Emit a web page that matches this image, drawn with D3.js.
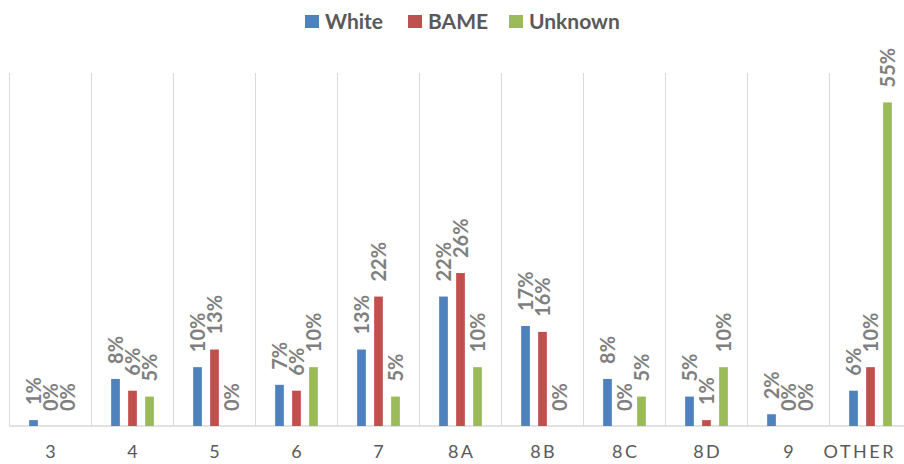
<!DOCTYPE html>
<html>
<head>
<meta charset="utf-8">
<script src="https://cdn.jsdelivr.net/npm/d3@7"></script>
<style>
  html, body { margin: 0; padding: 0; background: #fff; }
  svg { display: block; }
</style>
</head>
<body>
<svg id="chart" width="904" height="464"></svg>
<script>
// Pay band categories and share of staff in each ethnicity group (%)
const categories = ["3", "4", "5", "6", "7", "8A", "8B", "8C", "8D", "9", "OTHER"];
const series = ["White", "BAME", "Unknown"];
const white   = [1, 8, 10, 7, 13, 22, 17, 8, 5, 2, 6];
const bame    = [0, 6, 13, 6, 22, 26, 16, 0, 1, 0, 10];
const unknown = [0, 5, 0, 10, 5, 10, 0, 5, 10, 0, 55];
const colors = ["#4f81bd", "#c0504d", "#9bbb59"];

const values = [white, bame, unknown];
const rows = categories.map((c, i) => ({
  cat: c,
  vals: series.map((s, j) => ({ series: s, idx: j, value: values[j][i] }))
}));

const W = 904;
const svg = d3.select("#chart");
const plotTop = 73, plotBottom = 426, plotLeft = 9.5, step = 82;

const x0 = d3.scaleBand().domain(categories).range([plotLeft, plotLeft + step * categories.length]).padding(0);
const x1 = d3.scaleBand().domain(series).range([-21.35, 21.35]).paddingInner(0.488);
const y = d3.scaleLinear().domain([0, 60]).range([plotBottom, plotTop]);

// Vertical separators between categories
const bounds = d3.range(categories.length + 1).map(i => plotLeft + i * x0.step());
svg.append("g").selectAll("line").data(bounds).join("line")
  .attr("x1", d => d).attr("x2", d => d)
  .attr("y1", plotTop).attr("y2", plotBottom)
  .attr("stroke", "#d9d9d9").attr("stroke-width", 1);

// Baseline
svg.append("line")
  .attr("x1", plotLeft).attr("x2", W).attr("y1", plotBottom).attr("y2", plotBottom)
  .attr("stroke", "#d9d9d9").attr("stroke-width", 1.6);

// Bars
const groups = svg.append("g").selectAll("g").data(rows).join("g")
  .attr("transform", d => `translate(${x0(d.cat) + x0.bandwidth() / 2},0)`);

groups.selectAll("rect").data(d => d.vals).join("rect")
  .attr("x", d => x1(d.series))
  .attr("width", x1.bandwidth())
  .attr("y", d => y(d.value))
  .attr("height", d => plotBottom - y(d.value))
  .attr("fill", d => colors[d.idx]);

// Rotated value labels above each bar
groups.selectAll("text").data(d => d.vals).join("text")
  .attr("transform", d => `translate(${x1(d.series) + x1.bandwidth() / 2},${y(d.value) - 15}) rotate(-90)`)
  .attr("dy", "0.37em")
  .attr("text-anchor", "start")
  .attr("font-family", "Lato, 'Open Sans', sans-serif")
  .attr("font-weight", "bold")
  .attr("font-size", 20)
  .attr("fill", "#7f7f7f")
  .text(d => d.value + "%");

// Category axis
const axis = svg.append("g")
  .attr("transform", `translate(0,${plotBottom})`)
  .call(d3.axisBottom(x0).tickSize(0).tickPadding(0));
axis.select(".domain").remove();
axis.selectAll("text")
  .attr("y", 32)
  .attr("dy", 0)
  .attr("dx", 1.2)
  .attr("font-family", "Lato, 'Open Sans', sans-serif")
  .attr("font-size", 18)
  .attr("letter-spacing", "2.5px")
  .attr("fill", "#595959");

// Keep tick labels inside the right edge
axis.selectAll("text").each(function () {
  const b = this.getBBox();
  const tx = x0(this.textContent) + x0.bandwidth() / 2;
  const overflow = tx + b.x + b.width - (W - 8);
  if (overflow > 0) d3.select(this).attr("dx", 1.2 - overflow);
});

// Legend
const legendX = [305, 408, 509];
const legend = svg.append("g").selectAll("g").data(series).join("g")
  .attr("transform", (d, i) => `translate(${legendX[i]},0)`);
legend.append("rect")
  .attr("x", 0).attr("y", 15).attr("width", 14).attr("height", 13)
  .attr("fill", (d, i) => colors[i]);
legend.append("text")
  .attr("x", 20).attr("y", 28.5)
  .attr("font-family", "Lato, 'Open Sans', sans-serif")
  .attr("font-weight", "bold")
  .attr("font-size", 21)
  .attr("fill", "#595959")
  .text(d => d);
</script>
</body>
</html>
